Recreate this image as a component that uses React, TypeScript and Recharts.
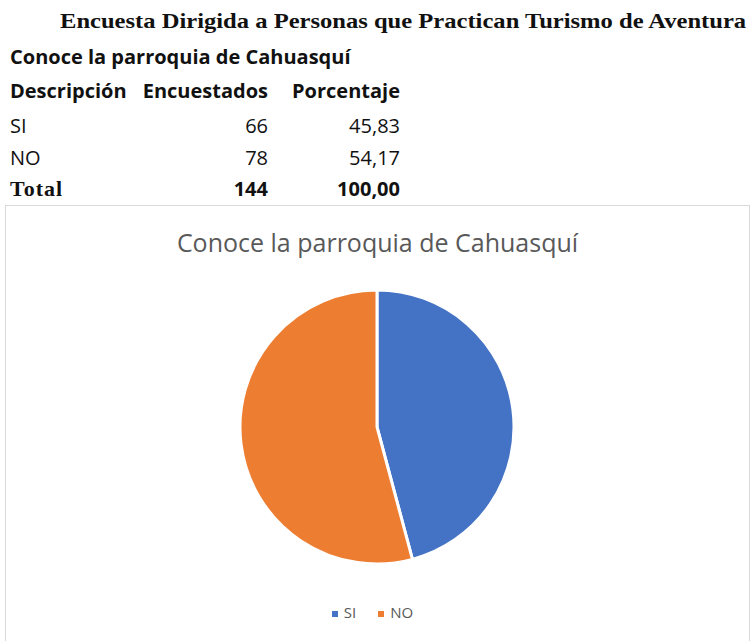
import { PieChart, Pie, Cell, Legend } from 'recharts';

const SURVEY_TITLE = 'Encuesta Dirigida a Personas que Practican Turismo de Aventura';
const QUESTION = 'Conoce la parroquia de Cahuasquí';
const headers = ['Descripción', 'Encuestados', 'Porcentaje'];
const categories = ['SI', 'NO'];
const respondents = [66, 78];
const percentages = ['45,83', '54,17'];
const totalRow = ['Total', '144', '100,00'];

const COLORS = ['#4472C4', '#ED7D31'];

const pieData = categories.map((name, i) => ({ name, value: respondents[i] }));

const tableFont = '"Open Sans", sans-serif';
const cell = { position: 'absolute' as const, fontFamily: tableFont, fontSize: 20, color: '#111', whiteSpace: 'nowrap' as const };

export default function App() {
  const rowTops = [77, 112, 144, 175];
  return (
    <div style={{ position: 'absolute', left: 0, top: 0, width: 755, height: 641, background: '#fff', overflow: 'hidden' }}>
      <div style={{ position: 'absolute', left: 60, top: 9, fontFamily: '"Liberation Serif", serif', fontWeight: 'bold', fontSize: 21, color: '#111', whiteSpace: 'nowrap', transform: 'scaleX(1.17)', transformOrigin: 'left' }}>
        {SURVEY_TITLE}
      </div>
      <div style={{ ...cell, left: 10, top: 43, fontWeight: 'bold' }}>{QUESTION}</div>

      {/* table */}
      <div style={{ ...cell, left: 10, top: rowTops[0], fontWeight: 'bold' }}>{headers[0]}</div>
      <div style={{ ...cell, right: 755 - 268, top: rowTops[0], fontWeight: 'bold' }}>{headers[1]}</div>
      <div style={{ ...cell, right: 755 - 400, top: rowTops[0], fontWeight: 'bold' }}>{headers[2]}</div>
      {categories.map((c, i) => (
        <div key={c}>
          <div style={{ ...cell, left: 10, top: rowTops[i + 1] }}>{c}</div>
          <div style={{ ...cell, right: 755 - 268, top: rowTops[i + 1] }}>{respondents[i]}</div>
          <div style={{ ...cell, right: 755 - 400, top: rowTops[i + 1] }}>{percentages[i]}</div>
        </div>
      ))}
      <div style={{ ...cell, left: 10, top: rowTops[3] + 1, fontFamily: '"Liberation Serif", serif', fontWeight: 'bold', fontSize: 22, letterSpacing: 1 }}>{totalRow[0]}</div>
      <div style={{ ...cell, right: 755 - 268, top: rowTops[3], fontWeight: 'bold' }}>{totalRow[1]}</div>
      <div style={{ ...cell, right: 755 - 400, top: rowTops[3], fontWeight: 'bold' }}>{totalRow[2]}</div>

      {/* chart box */}
      <div style={{ position: 'absolute', left: 5, top: 205, width: 745, height: 450, border: '1px solid #d9d9d9', boxSizing: 'border-box' }}>
        <div style={{ position: 'absolute', left: 0, width: 743, top: 19, textAlign: 'center', fontFamily: '"Open Sans", sans-serif', fontSize: 25, color: '#595959' }}>
          {QUESTION}
        </div>
        <PieChart width={743} height={436} margin={{ top: 0, right: 0, bottom: 0, left: 0 }} style={{ position: 'absolute', left: 0, top: 0 }}>
          <Pie
            data={pieData}
            dataKey="value"
            nameKey="name"
            cx={371}
            cy={221}
            outerRadius={137}
            startAngle={90}
            endAngle={-270}
            stroke="#fff"
            strokeWidth={3}
            isAnimationActive={false}
          >
            {pieData.map((entry, i) => (
              <Cell key={entry.name} fill={COLORS[i]} />
            ))}
          </Pie>
          <Legend
            layout="horizontal"
            align="center"
            verticalAlign="bottom"
            iconType="square"
            iconSize={6}
            itemSorter={(item: any) => categories.indexOf(item.value)}
            wrapperStyle={{ top: 396, bottom: 'auto', left: 0, width: 743, fontFamily: '"Open Sans", sans-serif', fontSize: 15 }}
            formatter={(value: string, _e: any, i: number) => (
              <span style={{ color: '#595959', marginLeft: 2, marginRight: i === 0 ? 12 : 0 }}>{value}</span>
            )}
          />
        </PieChart>
      </div>
    </div>
  );
}
